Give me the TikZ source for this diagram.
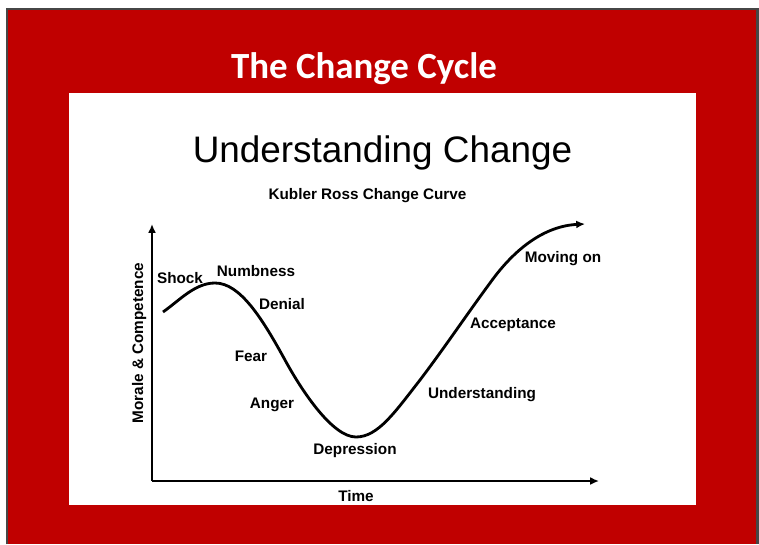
\documentclass[tikz,border=0pt]{standalone}
\usepackage{fontspec}
\setmainfont{Liberation Sans}
\newfontfamily\titlefont{Carlito}
\usetikzlibrary{arrows.meta}
\definecolor{framered}{RGB}{192,0,0}
\definecolor{framegray}{RGB}{70,70,70}

\begin{document}
\begin{tikzpicture}[x=0.02cm, y=-0.02cm,
    stage/.style={font=\bfseries\fontsize{8.7}{10}\selectfont, inner sep=0pt, anchor=base},
    thickline/.style={line width=1.6pt, line join=round},
    tip/.style={-{Latex[length=5pt,width=4.5pt]}}]
    \useasboundingbox (0,0) rectangle (759,544);

    % Marco rojo
    \fill[framered] (7,9) rectangle (759,544);
    \draw[framegray, line width=1.2pt] (7,544) -- (7,9) -- (757.5,9) -- (757.5,544);

    % Panel blanco
    \fill[white] (69,93) rectangle (696,505);

    % Titulos
    \node[anchor=base, inner sep=0pt, white, font=\titlefont\bfseries\fontsize{21}{24}\selectfont] (title) at (364,78) {The Change Cycle};
    \node[anchor=base, inner sep=0pt, font=\fontsize{21}{24}\selectfont] (heading) at (382.5,162) {Understanding Change};
    \node[stage] (subtitle) at (367.5,199) {Kubler Ross Change Curve};

    % Ejes
    \coordinate (origin) at (152,481);
    \coordinate (ytop) at (152,224);
    \coordinate (xend) at (599,481);
    \draw[thickline, tip] (origin) -- (ytop);
    \draw[thickline, tip] (origin) -- (xend);
    \node[stage] (time) at (356,501) {Time};
    \node[stage, rotate=90] (morale) at (143,343) {Morale \& Competence};

    % Curva
    \draw[thickline, tip] (163,312) .. controls (180,300) and (195,283) .. (215,283)
        .. controls (240,283) and (262,318) .. (285,360)
        .. controls (303,393) and (333,437) .. (356,437)
        .. controls (378,437) and (395,412) .. (420,380)
        .. controls (445,347) and (465,317) .. (490,283)
        .. controls (515,248) and (545,226) .. (585,224);

    % Etapas
    \foreach \nm/\x/\y/\txt in {shock/180/283/Shock, numbness/256/276/Numbness,
        denial/282/309/Denial, fear/251/361/Fear, anger/272/408/Anger,
        depression/355/454/Depression, understanding/482/398/Understanding,
        acceptance/513/328/Acceptance, movingon/563/262/Moving on} {
        \node[stage] (\nm) at (\x,\y) {\txt};
    }
\end{tikzpicture}
\end{document}
